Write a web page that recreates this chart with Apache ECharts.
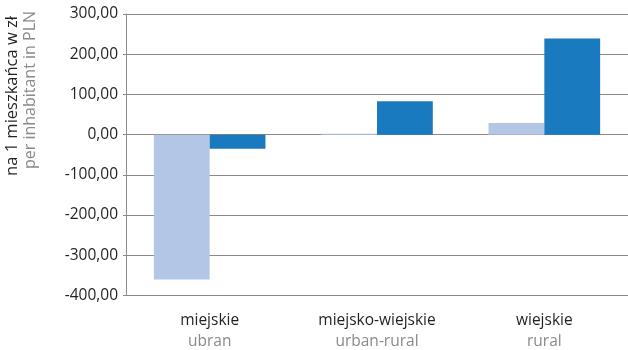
<!DOCTYPE html>
<html>
<head>
<meta charset="utf-8">
<script src="https://cdn.jsdelivr.net/npm/echarts@6/dist/echarts.min.js"></script>
<style>
  html, body { margin: 0; padding: 0; background: #fff; }
  #chart { width: 628px; height: 350px; }
</style>
</head>
<body>
<div id="chart"></div>
<script>
// Category labels (Polish / English)
const categoriesPl = ['miejskie', 'miejsko-wiejskie', 'wiejskie'];
const categoriesEn = ['ubran', 'urban-rural', 'rural'];

// Values per inhabitant in PLN
const seriesLight = [-360, 2, 29];
const seriesDark = [-35, 83, 239];

// Value axis range
const yMin = -400;
const yMax = 300;
const yStep = 100;

const FONT = '"Open Sans", sans-serif';
const LINE = '#8f8883';

const chart = echarts.init(document.getElementById('chart'));

chart.setOption({
  animation: false,
  grid: { left: 126, right: -2, top: 14, bottom: 53, containLabel: false },
  xAxis: {
    type: 'category',
    data: categoriesPl.map((c, i) => c + '\n' + categoriesEn[i]),
    axisLine: { show: false },
    axisTick: { show: false },
    axisLabel: {
      margin: 15,
      interval: 0,
      fontFamily: FONT,
      formatter: (v) => {
        const parts = v.split('\n');
        return '{a|' + parts[0] + '}\n{b|' + parts[1] + '}';
      },
      rich: {
        a: { fontFamily: FONT, fontSize: 15.5, color: '#231f20', lineHeight: 21 },
        b: { fontFamily: FONT, fontSize: 15.5, color: '#8a8a8a', lineHeight: 21 }
      }
    }
  },
  yAxis: {
    type: 'value',
    min: yMin,
    max: yMax,
    interval: yStep,
    axisLine: { show: true, lineStyle: { color: LINE, width: 1 } },
    axisTick: { show: true, inside: false, length: 3, lineStyle: { color: LINE } },
    splitLine: { show: true, lineStyle: { color: LINE, width: 1 } },
    axisLabel: {
      margin: 8,
      fontFamily: FONT,
      fontSize: 15.5,
      color: '#231f20',
      formatter: (v) => v.toFixed(2).replace('.', ',')
    }
  },
  series: [
    {
      type: 'bar',
      data: seriesLight,
      barGap: '0%',
      barCategoryGap: '33.3%',
      itemStyle: { color: '#b3c6e5' }
    },
    {
      type: 'bar',
      data: seriesDark,
      barGap: '0%',
      barCategoryGap: '33.3%',
      itemStyle: { color: '#1a7abf' }
    }
  ],
  graphic: [
    {
      type: 'text',
      x: 4,
      y: 96,
      rotation: Math.PI / 2,
      style: {
        text: 'na 1 mieszkańca w zł',
        fontFamily: FONT,
        fontSize: 16.5,
        fill: '#231f20',
        align: 'center',
        verticalAlign: 'top'
      }
    },
    {
      type: 'text',
      x: 22,
      y: 90,
      rotation: Math.PI / 2,
      style: {
        text: 'per inhabitant in PLN',
        fontFamily: FONT,
        fontSize: 16,
        fill: '#8a8a8a',
        align: 'center',
        verticalAlign: 'top'
      }
    }
  ]
});
</script>
</body>
</html>
